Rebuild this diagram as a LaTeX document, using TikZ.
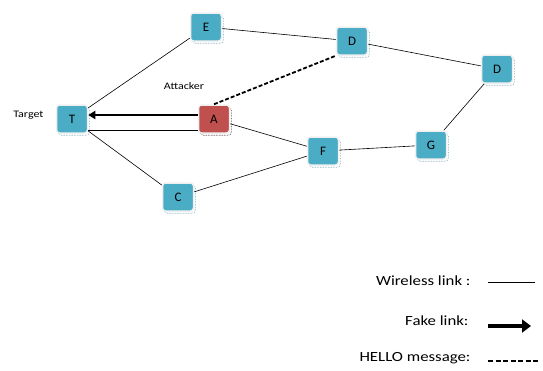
\documentclass[tikz,border=0pt]{standalone}
\usepackage{fontspec}
\setmainfont{Carlito}
\newfontfamily\widefont[FakeStretch=1.2]{Carlito}
\usepackage{xcolor}
\usetikzlibrary{arrows.meta,shadows}

\definecolor{nodeblue}{RGB}{75,172,198}
\definecolor{attackred}{RGB}{192,80,77}
\definecolor{shadowblue}{RGB}{60,120,140}

\tikzset{
  station/.style={rectangle, rounded corners=3pt, fill=nodeblue, draw=gray!12,
    line width=1.5pt, minimum width=31pt, minimum height=28pt, inner sep=0pt,
    font=\fontsize{13}{13}\selectfont,
    drop shadow={shadow xshift=1.8pt, shadow yshift=-2.2pt, fill=none,
      draw=shadowblue, densely dotted, line width=0.6pt, opacity=0.8}},
  wireless/.style={line width=0.6pt},
  fakelink/.style={line width=2.6pt, -{Triangle[length=7pt,width=8pt]}},
  hello/.style={line width=1.8pt, dash pattern=on 4pt off 2pt},
  smalllabel/.style={font=\widefont\fontsize{10}{10}\selectfont},
  legendtext/.style={font=\widefont\fontsize{14}{14}\selectfont, anchor=east}
}

\begin{document}
\begin{tikzpicture}[x=1pt,y=-1pt]
    \useasboundingbox (0,0) rectangle (543,370);

    % Nodes
    \node[station] (T) at (72,119) {T};
    \node[station,fill=attackred,drop shadow={shadow xshift=1.8pt, shadow yshift=-2.2pt, fill=none,
      draw=attackred!70!black, densely dotted, line width=0.6pt, opacity=0.8}] (A) at (214,119) {A};
    \node[station] (E) at (206,27) {E};
    \node[station] (D1) at (352,41) {D};
    \node[station] (D2) at (497,69) {D};
    \node[station] (G) at (431,145) {G};
    \node[station] (F) at (323,151) {F};
    \node[station] (C) at (178,197) {C};

    % Labels
    \node[smalllabel,anchor=east] (target) at (47,115) {Target};
    \node[smalllabel] (attacker) at (184,86) {Attacker};

    % Wireless links
    \draw[wireless] (T) -- (E);
    \draw[wireless] (E) -- (D1);
    \draw[wireless] (D1) -- (D2);
    \draw[wireless] (D2) -- (G);
    \draw[wireless] (G) -- (F);
    \draw[wireless] (F) -- (A);
    \draw[wireless] (F) -- (C);
    \draw[wireless] (C) -- (T);
    \draw[wireless] ([yshift=-11pt]A.west) -- ([yshift=-11pt]T.east);

    % Fake link and HELLO message
    \draw[fakelink] ([yshift=4pt]A.west) -- ([yshift=4pt]T.east);
    \draw[hello] (A.north) -- (D1.south west);

    % Legend
    \node[legendtext] (wl) at (474,281) {Wireless link :};
    \node[legendtext] (fl) at (472,321) {Fake link:};
    \node[legendtext] (hm) at (474,358) {HELLO message:};
    \coordinate (wl1) at (488,282);
    \coordinate (wl2) at (535,282);
    \coordinate (fl1) at (488,326);
    \coordinate (fl2) at (531,326);
    \coordinate (hm1) at (488,361);
    \coordinate (hm2) at (540,361);
    \draw[wireless] (wl1) -- (wl2);
    \draw[fakelink,line width=4pt,-{Triangle[length=9pt,width=13pt]}] (fl1) -- (fl2);
    \draw[hello,line width=2.4pt,dash pattern=on 5pt off 2.5pt] (hm1) -- (hm2);
\end{tikzpicture}
\end{document}
